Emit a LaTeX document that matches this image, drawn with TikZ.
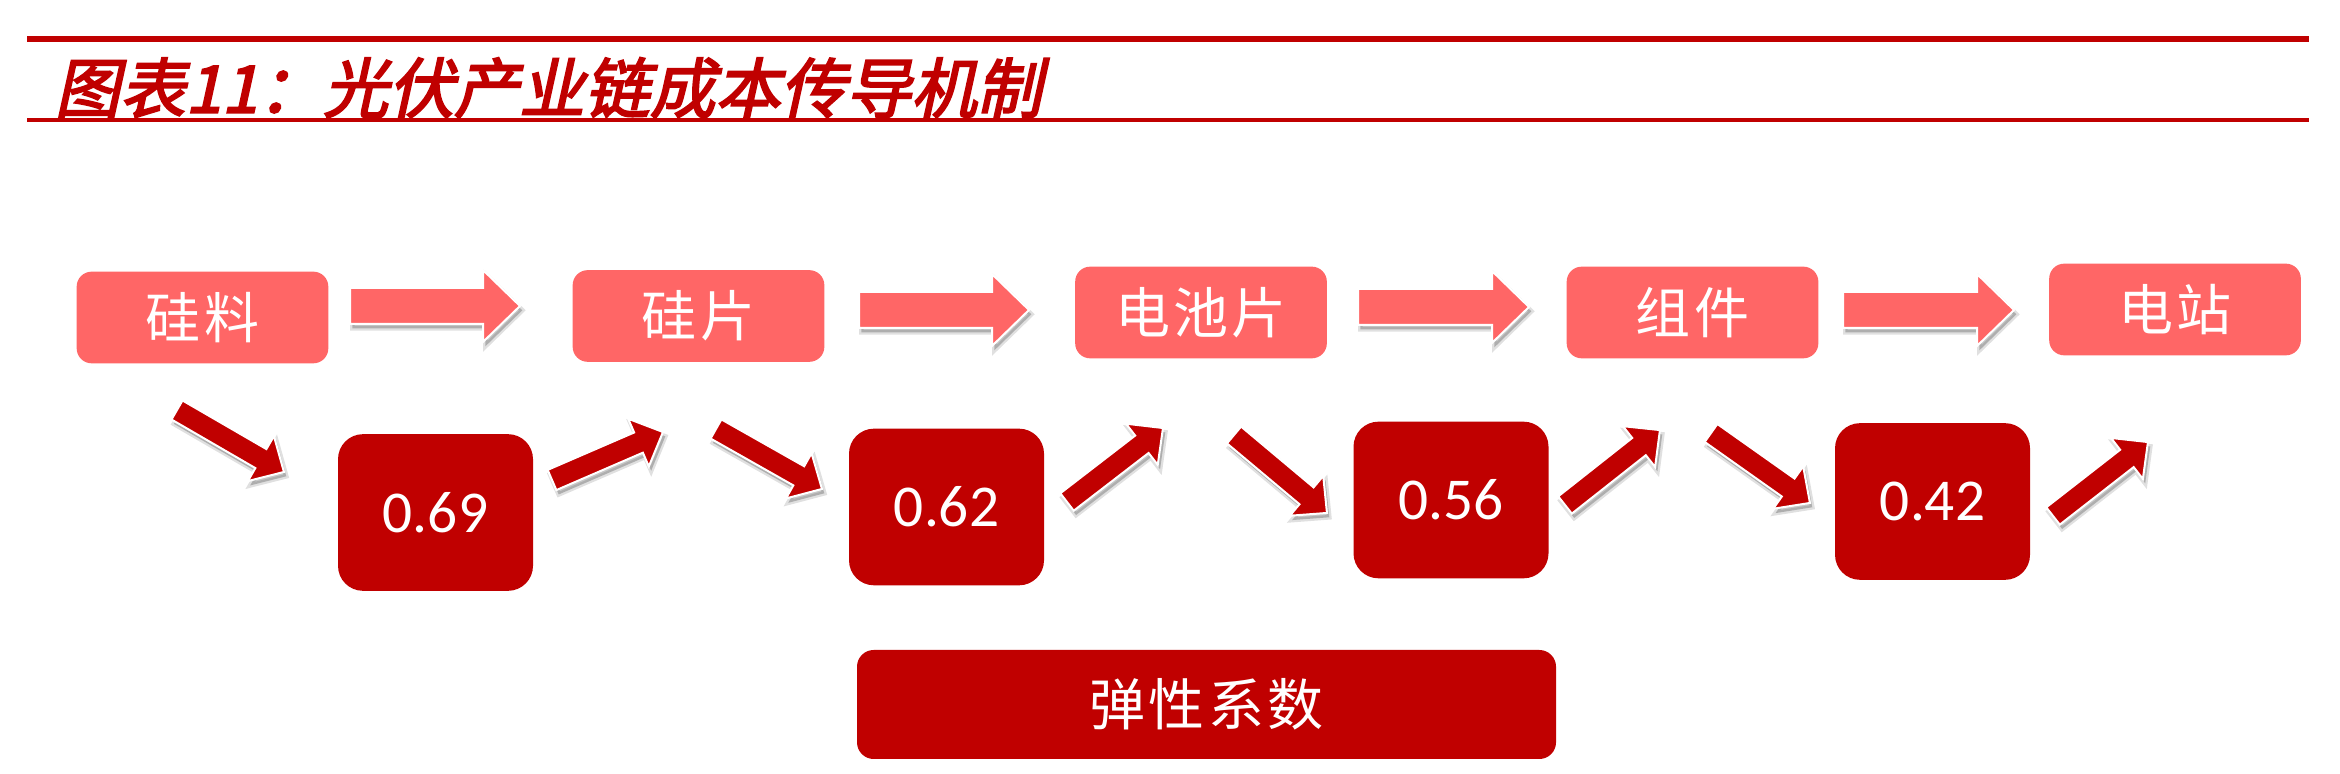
\documentclass[tikz,border=0pt]{standalone}
\usepackage{fontspec}
\setmainfont{Carlito}
\newfontfamily\cjk{Noto Sans CJK SC}[LetterSpace=6]
\newfontfamily\cjktitle{Noto Sans CJK SC}[FakeSlant=0.22, FakeBold=3]
\usetikzlibrary{calc}
\definecolor{darkred}{HTML}{C00000}
\definecolor{lightred}{HTML}{FF6666}

% polygon of a block arrow in a local frame: #1 shaft half, #2 head half, #3 head length
\newcommand\blkpoly[3]{(0pt,#1) -- ({\blklen-#3},#1) -- ({\blklen-#3},#2) -- (\blklen,0pt)
  -- ({\blklen-#3},-#2) -- ({\blklen-#3},-#1) -- (0pt,-#1) -- cycle}
% block arrow: #1 style, #2 tail, #3 tip, #4 shaft half, #5 head half, #6 head length
\newcommand\blkarrow[6]{%
  \path let \p1=($(#3)-(#2)$), \n1={atan2(\y1,\x1)}, \n2={veclen(\x1,\y1)} in
    \pgfextra{\xdef\blkang{\n1}\xdef\blklen{\n2}};
  \begin{scope}[shift={($(#2)+(0.7pt,-1.3pt)$)}, rotate=\blkang]
    \fill[arrowshadow] \blkpoly{#4}{#5}{#6};
    \draw[arrowshadowedge] \blkpoly{#4}{#5}{#6};
  \end{scope}
  \begin{scope}[shift={(#2)}, rotate=\blkang]
    \filldraw[#1] \blkpoly{#4}{#5}{#6};
  \end{scope}}

\tikzset{
  topbox/.style={fill=lightred, rounded corners=4.5pt, minimum width=75.5pt,
    minimum height=27.5pt, inner sep=0pt, text=white,
    font=\cjk\fontsize{16.5pt}{18pt}\selectfont},
  valbox/.style={fill=darkred, rounded corners=7.5pt, minimum width=58.5pt,
    minimum height=47pt, inner sep=0pt, text=white,
    font=\fontsize{17.8pt}{20pt}\selectfont},
  basebox/.style={fill=darkred, rounded corners=5pt, minimum width=209.7pt,
    minimum height=32.7pt, inner sep=0pt, text=white,
    font=\cjk\fontsize{16.8pt}{18pt}\selectfont},
  harrow/.style={fill=lightred, draw=white, line width=0.6pt, line join=miter},
  darrow/.style={fill=darkred, draw=white, line width=0.6pt, line join=miter},
  arrowshadow/.style={fill=black, opacity=0.22},
  arrowshadowedge/.style={draw=black, opacity=0.12, line width=1.4pt},
  ruleline/.style={draw=darkred},
  titletext/.style={anchor=west, inner sep=0pt, text=darkred,
    font=\cjktitle\fontsize{19.6pt}{22pt}\selectfont}
}

\begin{document}
\begin{tikzpicture}[x=0.3pt, y=-0.3pt]
\useasboundingbox[fill=white] (0,0) rectangle (2340,774);

% title and rules
\draw[ruleline, line width=1.8pt] (27,39) -- (2309,39);
\draw[ruleline, line width=1.2pt] (27,120.5) -- (2309,120.5);
\node[titletext] (title) at (54,88) {图表11：光伏产业链成本传导机制};

% chain stages
\node[topbox] (b1) at (202.5,317.5) {硅料};
\node[topbox] (b2) at (698.5,316) {硅片};
\node[topbox] (b3) at (1201,312.5) {电池片};
\node[topbox] (b4) at (1692.5,312.5) {组件};
\node[topbox] (b5) at (2175,309.5) {电站};

% elasticity values
\node[valbox] (v1) at (435.5,512.5) {0.69};
\node[valbox] (v2) at (946.5,507) {0.62};
\node[valbox] (v3) at (1451,500) {0.56};
\node[valbox] (v4) at (1932.5,501.5) {0.42};

% base label
\node[basebox] (base) at (1206.5,704.5) {弹性系数};

% arrow end points
\coordinate (h1t) at (350,306);  \coordinate (h1h) at (520,306);
\coordinate (h2t) at (859,310);  \coordinate (h2h) at (1029,310);
\coordinate (h3t) at (1358,307); \coordinate (h3h) at (1529,307);
\coordinate (h4t) at (1843,310); \coordinate (h4h) at (2014,310);

\coordinate (d1t) at (177,410);  \coordinate (d1h) at (284,472);
\coordinate (u1t) at (552,480);  \coordinate (u1h) at (663,432);
\coordinate (d2t) at (716,429);  \coordinate (d2h) at (822,489);
\coordinate (u2t) at (1067,502); \coordinate (u2h) at (1163,428);
\coordinate (d3t) at (1234,435); \coordinate (d3h) at (1327,513);
\coordinate (u3t) at (1565,505); \coordinate (u3h) at (1660,430);
\coordinate (d4t) at (1711,433); \coordinate (d4h) at (1810,503);
\coordinate (u4t) at (2053,516); \coordinate (u4h) at (2148,442);

% horizontal block arrows
\blkarrow{harrow}{h1t}{h1h}{5.4pt}{10.8pt}{11.1pt}
\blkarrow{harrow}{h2t}{h2h}{5.4pt}{10.8pt}{11.1pt}
\blkarrow{harrow}{h3t}{h3h}{5.4pt}{10.8pt}{11.1pt}
\blkarrow{harrow}{h4t}{h4h}{5.4pt}{10.8pt}{11.1pt}

% diagonal block arrows
\blkarrow{darrow}{d1t}{d1h}{3.3pt}{7.8pt}{8pt}
\blkarrow{darrow}{u1t}{u1h}{3.3pt}{7.8pt}{8pt}
\blkarrow{darrow}{d2t}{d2h}{3.3pt}{7.8pt}{8pt}
\blkarrow{darrow}{u2t}{u2h}{3.3pt}{7.8pt}{8pt}
\blkarrow{darrow}{d3t}{d3h}{3.3pt}{7.8pt}{8pt}
\blkarrow{darrow}{u3t}{u3h}{3.3pt}{7.8pt}{8pt}
\blkarrow{darrow}{d4t}{d4h}{3.3pt}{7.8pt}{8pt}
\blkarrow{darrow}{u4t}{u4h}{3.3pt}{7.8pt}{8pt}
\end{tikzpicture}
\end{document}
